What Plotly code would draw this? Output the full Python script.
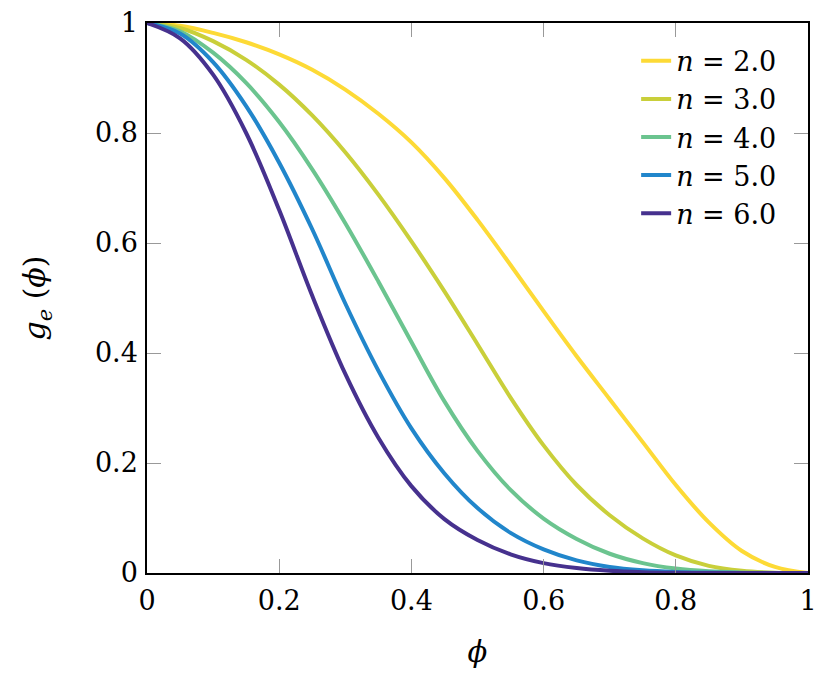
import plotly.graph_objects as go

# phi grid
phi = [0.0, 0.05, 0.1, 0.15, 0.2, 0.25, 0.3, 0.35, 0.4, 0.45, 0.5,
       0.55, 0.6, 0.65, 0.7, 0.75, 0.8, 0.85, 0.9, 0.95, 1.0]

# g_e(phi) for each exponent n
g_n2 = [1.0, 0.995, 0.982, 0.965, 0.943, 0.915, 0.879, 0.835, 0.783, 0.718, 0.642,
        0.560, 0.476, 0.394, 0.316, 0.238, 0.160, 0.092, 0.040, 0.011, 0.0]
g_n3 = [1.0, 0.991, 0.967, 0.933, 0.888, 0.832, 0.765, 0.688, 0.603, 0.512, 0.416,
        0.319, 0.232, 0.160, 0.105, 0.063, 0.032, 0.013, 0.004, 0.0005, 0.0]
g_n4 = [1.0, 0.985, 0.946, 0.891, 0.820, 0.734, 0.636, 0.530, 0.420, 0.312, 0.222,
        0.151, 0.099, 0.062, 0.035, 0.018, 0.008, 0.003, 0.001, 0.0002, 0.0]
g_n5 = [1.0, 0.981, 0.929, 0.849, 0.746, 0.625, 0.490, 0.368, 0.263, 0.181, 0.118,
        0.073, 0.043, 0.023, 0.011, 0.005, 0.002, 0.0007, 0.0002, 0.0, 0.0]
g_n6 = [1.0, 0.972, 0.906, 0.800, 0.660, 0.504, 0.362, 0.246, 0.158, 0.098, 0.060,
        0.034, 0.018, 0.009, 0.004, 0.0015, 0.0005, 0.0001, 0.0, 0.0, 0.0]

labels = ['2.0', '3.0', '4.0', '5.0', '6.0']
colors = ['#FDDA36', '#C9CF3A', '#6BC48F', '#2186CB', '#46318E']

tick_vals = [0, 0.2, 0.4, 0.6, 0.8, 1]
tick_text = ['0', '0.2', '0.4', '0.6', '0.8', '1']

font_name = 'DejaVu Serif'

fig = go.Figure()
for ys, lab, col in zip([g_n2, g_n3, g_n4, g_n5, g_n6], labels, colors):
    fig.add_trace(go.Scatter(x=phi, y=ys, mode='lines',
                             name='<i>n</i> = ' + lab,
                             line=dict(color=col, width=4, shape='spline', smoothing=1)))

axis_style = dict(range=[0, 1], tickvals=tick_vals, ticktext=tick_text,
                  ticks='inside', ticklen=14, tickwidth=1, tickcolor='#999999',
                  showline=True, linecolor='black', linewidth=1.5, mirror='ticks',
                  showgrid=False, zeroline=False, ticklabeloverflow='allow',
                  automargin=False,
                  tickfont=dict(family=font_name, size=27, color='black'))

fig.update_xaxes(**axis_style, ticklabelstandoff=3,
                 title=dict(text='<i>ϕ</i>', standoff=27,
                            font=dict(family=font_name, size=29, color='black')))
fig.update_yaxes(**axis_style, ticklabelstandoff=2,
                 title=dict(text='<i>g<sub>e</sub></i> (<i>ϕ</i>)', standoff=40,
                            font=dict(family=font_name, size=30, color='black')))

# page body adds an 8px offset, so the figure is shrunk by that much
fig.update_layout(
    width=822, height=671,
    margin=dict(l=139, r=22, t=15, b=106),
    plot_bgcolor='white', paper_bgcolor='white',
    font=dict(family=font_name, size=27, color='black'),
    legend=dict(x=0.74, y=0.975, xanchor='left', yanchor='top',
                bgcolor='rgba(0,0,0,0)', font=dict(family=font_name, size=27)),
)

fig.write_html("out.html")
